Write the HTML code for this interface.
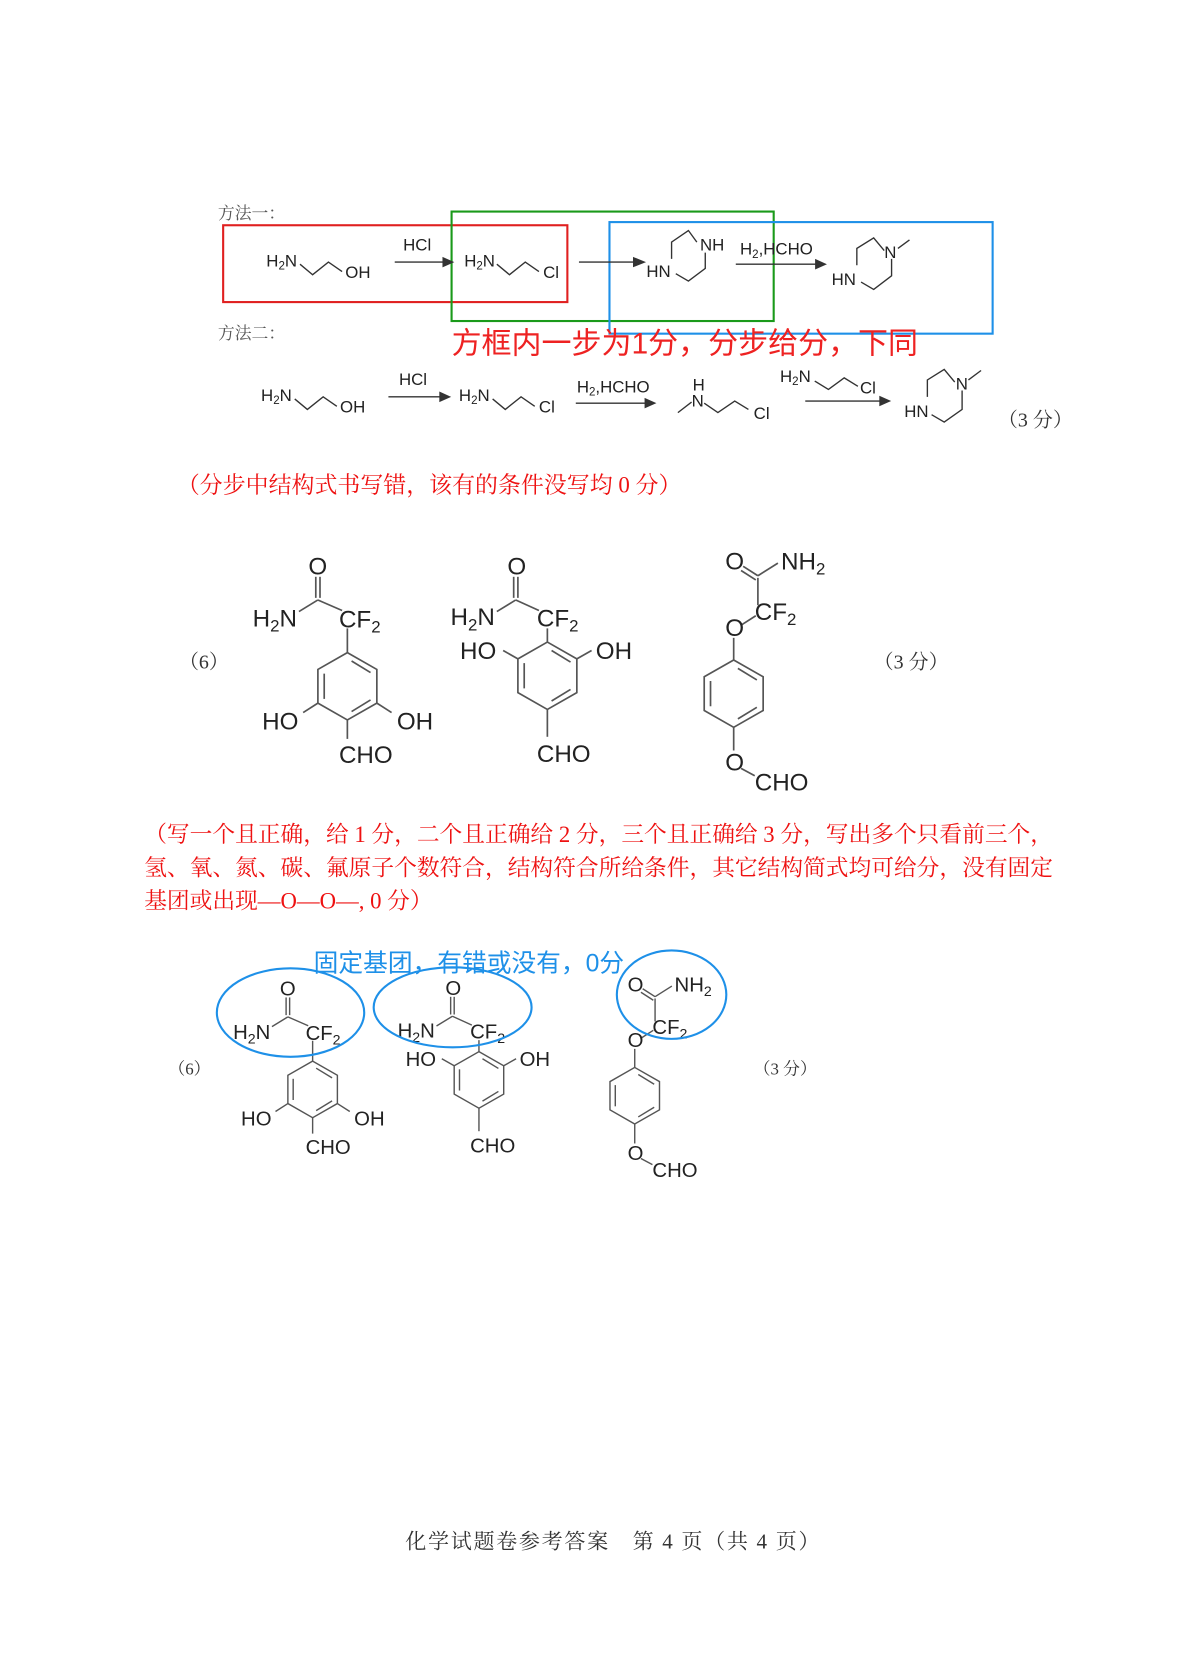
<!DOCTYPE html>
<html><head><meta charset="utf-8"><style>
html,body{margin:0;padding:0;background:#fff;}
svg{display:block;}
.ch{font-family:"Liberation Sans",sans-serif;fill:#222;}
.cn{font-family:"Liberation Serif","Noto Serif CJK SC",serif;}
</style></head><body>
<svg width="1200" height="1662" viewBox="0 0 1140 1579" preserveAspectRatio="none" xmlns="http://www.w3.org/2000/svg">
<rect width="1140" height="1579" fill="#fff"/>
<g transform="translate(2,2)">
<g class="cn" font-size="16" fill="#555">
<text x="205" y="206">方法一：</text>
<text x="205" y="320">方法二：</text>
</g>
<rect x="210" y="212" width="327" height="73" fill="none" stroke="#e02020" stroke-width="2"/>
<rect x="427" y="199" width="306" height="104" fill="none" stroke="#1a9a1a" stroke-width="2"/>
<rect x="577" y="209" width="364" height="106" fill="none" stroke="#1e90e8" stroke-width="2"/>

<g stroke="#333" stroke-width="1.3" fill="none">
<polyline points="283,249 295,259 310,247 323,256"/>
<line x1="373" y1="247" x2="420" y2="247"/><polygon points="428,247 419,243 419,251" fill="#333"/>
<polyline points="470,249 482,259 497,247 510,256"/>
<line x1="548" y1="247" x2="600" y2="247"/><polygon points="610,247 600,243 600,251" fill="#333"/>
<polyline points="660,228 652,217 636,228 636,244"/><polyline points="668,238 668,253 652,265 640,258"/>
<line x1="697" y1="249" x2="774" y2="249"/><polygon points="782,249 773,245 773,253" fill="#333"/>
<polyline points="838,236 828,224 812,234 812,250"/><polyline points="845,244 845,260 828,273 816,266"/><line x1="851" y1="234" x2="862" y2="226"/>
<polyline points="278,377 290,387 305,375 318,384"/>
<line x1="367" y1="375" x2="417" y2="375"/><polygon points="425,375 416,371 416,379" fill="#333"/>
<polyline points="466,377 478,387 493,375 506,384"/>
<line x1="545" y1="381" x2="612" y2="381"/><polygon points="620,381 611,377 611,385" fill="#333"/>
<polyline points="642,390 655,380"/><polyline points="667,381 680,390 696,379 709,387"/>
<polyline points="772,360 785,368 800,357 813,365"/>
<line x1="763" y1="379" x2="835" y2="379"/><polygon points="843,379 834,375 834,383" fill="#333"/>
<polyline points="905,361 895,349 879,359 879,375"/><polyline points="912,369 912,387 895,399 883,392"/><line x1="918" y1="359" x2="930" y2="350"/>
</g>
<g class="ch" font-size="16">
<text x="251" y="251">H<tspan font-size="11" dy="3">2</tspan><tspan dy="-3">N</tspan></text>
<text x="326" y="262">OH</text>
<text x="381" y="236">HCl</text>
<text x="439" y="251">H<tspan font-size="11" dy="3">2</tspan><tspan dy="-3">N</tspan></text>
<text x="514" y="262">Cl</text>
<text x="663" y="236">NH</text>
<text x="612" y="261">HN</text>
<text x="701" y="240">H<tspan font-size="11" dy="3">2</tspan><tspan dy="-3">,HCHO</tspan></text>
<text x="838" y="243">N</text>
<text x="788" y="269">HN</text>
<text x="246" y="379">H<tspan font-size="11" dy="3">2</tspan><tspan dy="-3">N</tspan></text>
<text x="321" y="390">OH</text>
<text x="377" y="364">HCl</text>
<text x="434" y="379">H<tspan font-size="11" dy="3">2</tspan><tspan dy="-3">N</tspan></text>
<text x="510" y="390">Cl</text>
<text x="546" y="371">H<tspan font-size="11" dy="3">2</tspan><tspan dy="-3">,HCHO</tspan></text>
<text x="656" y="369">H</text>
<text x="655" y="384">N</text>
<text x="714" y="396">Cl</text>
<text x="739" y="361">H<tspan font-size="11" dy="3">2</tspan><tspan dy="-3">N</tspan></text>
<text x="815" y="372">Cl</text>
<text x="906" y="368">N</text>
<text x="857" y="394">HN</text>
</g>
<text x="427" y="334" font-family="Liberation Sans,'Noto Sans CJK SC',sans-serif" font-size="28.5" fill="#ee2222">方框内一步为1分，分步给分，下同</text>
<text class="cn" x="946" y="403" font-size="19" fill="#333">（3 分）</text>
</g>

<g transform="translate(0,5)">
<g class="cn" font-size="19" fill="#333">
<text x="170" y="630">（6）</text>
<text x="830" y="630">（3 分）</text>
</g>
<text class="cn" x="168" y="463" font-size="21.8" fill="#ee1111">（分步中结构式书写错，该有的条件没写均 0 分）</text>
<g class="cn" font-size="21.6" fill="#ee1111">
<text x="137" y="795">（写一个且正确，给 1 分，二个且正确给 2 分，三个且正确给 3 分，写出多个只看前三个，</text>
<text x="137" y="827">氢、氧、氮、碳、氟原子个数符合，结构符合所给条件，其它结构简式均可给分，没有固定</text>
<text x="137" y="858">基团或出现—O—O—, 0 分）</text>
</g>

<g transform="translate(330,647)">
<g stroke="#555" stroke-width="1.6" fill="none">
<polygon points="0,-32 28,-16 28,16 0,32 -28,16 -28,-16"/>
<line x1="-22" y1="-12" x2="-22" y2="12"/><line x1="22" y1="13" x2="4" y2="24"/><line x1="4" y1="-24" x2="22" y2="-13"/>
<line x1="0" y1="-32" x2="0" y2="-55"/>
<line x1="-28" y1="16" x2="-42" y2="25"/><line x1="28" y1="16" x2="42" y2="25"/><line x1="0" y1="32" x2="0" y2="50"/>
<line x1="-5" y1="-72" x2="-28" y2="-82"/><line x1="-28" y1="-82" x2="-46" y2="-71"/>
<line x1="-30" y1="-84" x2="-30" y2="-104"/><line x1="-26" y1="-84" x2="-26" y2="-104"/>
</g>
<g class="ch" font-size="23" fill="#222">
<text x="-37" y="-106">O</text>
<text x="-90" y="-57">H<tspan font-size="16" dy="5">2</tspan><tspan dy="-5">N</tspan></text>
<text x="-8" y="-56">CF<tspan font-size="16" dy="5">2</tspan></text>
<text x="-81" y="41">HO</text>
<text x="47" y="41">OH</text>
<text x="-8" y="73">CHO</text>
</g>
</g>
<g transform="translate(520,637)">
<g stroke="#555" stroke-width="1.6" fill="none">
<polygon points="0,-32 28,-16 28,16 0,32 -28,16 -28,-16"/>
<line x1="-22" y1="-12" x2="-22" y2="12"/><line x1="22" y1="13" x2="4" y2="24"/><line x1="4" y1="-24" x2="22" y2="-13"/>
<line x1="0" y1="-32" x2="0" y2="-45"/>
<line x1="-28" y1="-16" x2="-42" y2="-24"/><line x1="28" y1="-16" x2="42" y2="-24"/><line x1="0" y1="32" x2="0" y2="58"/>
<line x1="-8" y1="-62" x2="-30" y2="-72"/><line x1="-30" y1="-72" x2="-48" y2="-61"/>
<line x1="-32" y1="-74" x2="-32" y2="-94"/><line x1="-28" y1="-74" x2="-28" y2="-94"/>
</g>
<g class="ch" font-size="23" fill="#222">
<text x="-38" y="-96">O</text>
<text x="-92" y="-48">H<tspan font-size="16" dy="5">2</tspan><tspan dy="-5">N</tspan></text>
<text x="-10" y="-47">CF<tspan font-size="16" dy="5">2</tspan></text>
<text x="-83" y="-16">HO</text>
<text x="46" y="-16">OH</text>
<text x="-10" y="82">CHO</text>
</g>
</g>
<g transform="translate(697,654)">
<g stroke="#555" stroke-width="1.6" fill="none">
<polygon points="0,-32 28,-16 28,16 0,32 -28,16 -28,-16"/>
<line x1="-22" y1="-12" x2="-22" y2="12"/><line x1="22" y1="13" x2="4" y2="24"/><line x1="4" y1="-24" x2="22" y2="-13"/>
<line x1="0" y1="-32" x2="0" y2="-53"/><line x1="0" y1="32" x2="0" y2="54"/>
<line x1="7" y1="-65" x2="21" y2="-74"/><line x1="23" y1="-84" x2="23" y2="-110"/>
<line x1="23" y1="-112" x2="9" y2="-121"/><line x1="21" y1="-108" x2="7" y2="-117"/>
<line x1="23" y1="-112" x2="42" y2="-124"/><line x1="7" y1="71" x2="20" y2="78"/>
</g>
<g class="ch" font-size="23" fill="#222">
<text x="-8" y="-118">O</text>
<text x="45" y="-118">NH<tspan font-size="16" dy="5">2</tspan></text>
<text x="20" y="-70">CF<tspan font-size="16" dy="5">2</tspan></text>
<text x="-8" y="-55">O</text>
<text x="-8" y="73">O</text>
<text x="20" y="92">CHO</text>
</g>
</g>
</g>

<g transform="translate(0,7)">
<text x="298" y="916" font-family="Liberation Sans,'Noto Sans CJK SC',sans-serif" font-size="23.5" fill="#1e90e8">固定基团，有错或没有，0分</text>
<g class="cn" font-size="16" fill="#333">
<text x="160" y="1014">（6）</text>
<text x="716" y="1014">（3 分）</text>
</g>
<g transform="translate(297,1028) scale(0.84)">
<g stroke="#555" stroke-width="1.6" fill="none">
<polygon points="0,-32 28,-16 28,16 0,32 -28,16 -28,-16"/>
<line x1="-22" y1="-12" x2="-22" y2="12"/><line x1="22" y1="13" x2="4" y2="24"/><line x1="4" y1="-24" x2="22" y2="-13"/>
<line x1="0" y1="-32" x2="0" y2="-55"/>
<line x1="-28" y1="16" x2="-42" y2="25"/><line x1="28" y1="16" x2="42" y2="25"/><line x1="0" y1="32" x2="0" y2="50"/>
<line x1="-5" y1="-72" x2="-28" y2="-82"/><line x1="-28" y1="-82" x2="-46" y2="-71"/>
<line x1="-30" y1="-84" x2="-30" y2="-104"/><line x1="-26" y1="-84" x2="-26" y2="-104"/>
</g>
<g class="ch" font-size="23" fill="#222">
<text x="-37" y="-106">O</text>
<text x="-90" y="-57">H<tspan font-size="16" dy="5">2</tspan><tspan dy="-5">N</tspan></text>
<text x="-8" y="-56">CF<tspan font-size="16" dy="5">2</tspan></text>
<text x="-81" y="41">HO</text>
<text x="47" y="41">OH</text>
<text x="-8" y="73">CHO</text>
</g>
</g>
<g transform="translate(455,1019) scale(0.84)">
<g stroke="#555" stroke-width="1.6" fill="none">
<polygon points="0,-32 28,-16 28,16 0,32 -28,16 -28,-16"/>
<line x1="-22" y1="-12" x2="-22" y2="12"/><line x1="22" y1="13" x2="4" y2="24"/><line x1="4" y1="-24" x2="22" y2="-13"/>
<line x1="0" y1="-32" x2="0" y2="-45"/>
<line x1="-28" y1="-16" x2="-42" y2="-24"/><line x1="28" y1="-16" x2="42" y2="-24"/><line x1="0" y1="32" x2="0" y2="58"/>
<line x1="-8" y1="-62" x2="-30" y2="-72"/><line x1="-30" y1="-72" x2="-48" y2="-61"/>
<line x1="-32" y1="-74" x2="-32" y2="-94"/><line x1="-28" y1="-74" x2="-28" y2="-94"/>
</g>
<g class="ch" font-size="23" fill="#222">
<text x="-38" y="-96">O</text>
<text x="-92" y="-48">H<tspan font-size="16" dy="5">2</tspan><tspan dy="-5">N</tspan></text>
<text x="-10" y="-47">CF<tspan font-size="16" dy="5">2</tspan></text>
<text x="-83" y="-16">HO</text>
<text x="46" y="-16">OH</text>
<text x="-10" y="82">CHO</text>
</g>
</g>
<g transform="translate(603,1034) scale(0.84)">
<g stroke="#555" stroke-width="1.6" fill="none">
<polygon points="0,-32 28,-16 28,16 0,32 -28,16 -28,-16"/>
<line x1="-22" y1="-12" x2="-22" y2="12"/><line x1="22" y1="13" x2="4" y2="24"/><line x1="4" y1="-24" x2="22" y2="-13"/>
<line x1="0" y1="-32" x2="0" y2="-53"/><line x1="0" y1="32" x2="0" y2="54"/>
<line x1="7" y1="-65" x2="21" y2="-74"/><line x1="23" y1="-84" x2="23" y2="-110"/>
<line x1="23" y1="-112" x2="9" y2="-121"/><line x1="21" y1="-108" x2="7" y2="-117"/>
<line x1="23" y1="-112" x2="42" y2="-124"/><line x1="7" y1="71" x2="20" y2="78"/>
</g>
<g class="ch" font-size="23" fill="#222">
<text x="-8" y="-118">O</text>
<text x="45" y="-118">NH<tspan font-size="16" dy="5">2</tspan></text>
<text x="20" y="-70">CF<tspan font-size="16" dy="5">2</tspan></text>
<text x="-8" y="-55">O</text>
<text x="-8" y="73">O</text>
<text x="20" y="92">CHO</text>
</g>
</g>
<g fill="none" stroke="#1e90e8" stroke-width="2">
<ellipse cx="276" cy="955" rx="70" ry="42"/>
<ellipse cx="430" cy="950" rx="75" ry="38"/>
<ellipse cx="638" cy="938" rx="52" ry="42"/>
</g>
</g>

<text class="cn" x="385" y="1471" font-size="20" fill="#333" letter-spacing="1.6">化学试题卷参考答案　第  4  页（共  4  页）</text>
</svg>
</body></html>
